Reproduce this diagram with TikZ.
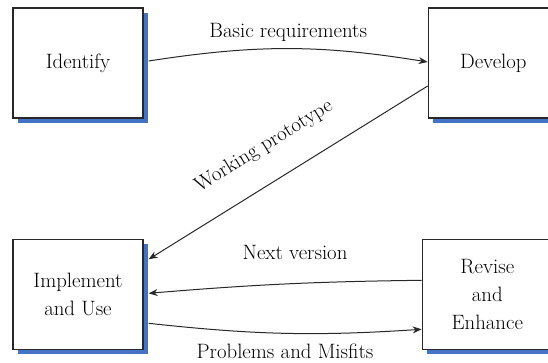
\documentclass[tikz,border=0pt]{standalone}
\usepackage{fontspec}
\usetikzlibrary{positioning,shadows,arrows.meta}
\definecolor{shadowblue}{RGB}{68,114,196}
\definecolor{linegray}{RGB}{40,40,40}

\begin{document}
\begin{tikzpicture}[x=1pt, y=1pt, node distance=120pt,
    font=\fontsize{20.8}{28}\selectfont,
    stage/.style={draw=linegray, line width=1.3pt, fill=white,
      minimum width=130pt, minimum height=110pt, align=center,
      drop shadow={shadow xshift=5pt, shadow yshift=-5pt, fill=shadowblue, opacity=1}},
    flow/.style={draw=linegray, line width=1pt, -{Stealth[length=9pt,width=7pt]}}]
  \useasboundingbox (0,0) rectangle (548,363);
  \clip (0,0) rectangle (548,363);

  \node[stage] (identify) at (78,300) {Identify};
  \node[stage, right=284pt of identify] (develop) {Develop};
  \node[stage, below=of identify] (implement) {Implement\\and Use};
  \node[stage, right=278pt of implement] (revise) {Revise\\and\\Enhance};

  \draw[flow] ([xshift=5pt,yshift=2pt]identify.east) to[bend left=9]
    node[above=3pt] {Basic requirements} ([yshift=1pt]develop.west);
  \draw[flow] ([yshift=-23pt]develop.west) --
    node[sloped, above=22pt, pos=0.52] {Working prototype} ([xshift=5pt,yshift=35pt]implement.east);
  \draw[flow] ([yshift=14pt]revise.west) to[bend right=2]
    node[above=20pt, pos=0.46] {Next version} ([xshift=5pt,yshift=1pt]implement.east);
  \draw[flow] ([xshift=5pt,yshift=-29pt]implement.east) to[bend right=5]
    node[below=7pt] {Problems and Misfits} ([yshift=-35pt]revise.west);
\end{tikzpicture}
\end{document}
